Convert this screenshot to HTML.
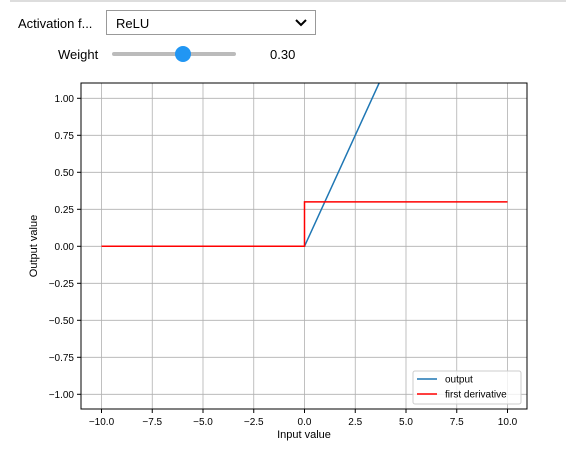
<!DOCTYPE html>
<html><head><meta charset="utf-8"><style>
body{margin:0;width:566px;height:453px;background:#fff;font-family:"Liberation Sans",sans-serif;overflow:hidden;position:relative}
.topline{position:absolute;left:10px;top:0;width:556px;height:2px;background:#ddd}
.lbl{position:absolute;font-size:13px;color:#000}
.sel{position:absolute;left:106px;top:10px;width:210px;height:25px;border:1px solid #999;box-sizing:border-box;font-size:13px;padding:5px 0 0 9px}
.track{position:absolute;left:112px;top:52px;width:124px;height:4px;background:#bbb;border-radius:2px}
.thumb{position:absolute;left:175px;top:46px;width:16px;height:16px;border-radius:50%;background:#2196f3}
</style></head><body>
<div class="topline"></div>
<div class="lbl" style="left:18px;top:16px">Activation f...</div>
<div class="sel">ReLU<svg style="position:absolute;right:8px;top:8px" width="12" height="8"><path d="M1,1 L6,6 L11,1" stroke="#000" stroke-width="2" fill="none"/></svg></div>
<div class="lbl" style="left:58px;top:47px">Weight</div>
<div class="track"></div>
<div class="thumb"></div>
<div class="lbl" style="left:270px;top:47px">0.30</div>
<svg id="chart" width="566" height="453" style="position:absolute;left:0;top:0"></svg>
<script>
const xTicks=[-10,-7.5,-5,-2.5,0,2.5,5,7.5,10];
const xTickLabels=["\u221210.0","\u22127.5","\u22125.0","\u22122.5","0.0","2.5","5.0","7.5","10.0"];
const yTicks=[-1,-0.75,-0.5,-0.25,0,0.25,0.5,0.75,1];
const yTickLabels=["\u22121.00","\u22120.75","\u22120.50","\u22120.25","0.00","0.25","0.50","0.75","1.00"];
const outputX=[-10,0,10];
const outputY=[0,0,3];
const derivX=[-10,0,0,10];
const derivY=[0,0,0.3,0.3];
const L=81,R=527,T=83,B=409;
const sx=v=>304.5+v*20.3;
const sy=v=>246.3-v*148;
const svg=document.getElementById('chart');const NS='http://www.w3.org/2000/svg';
function mk(t,a){const e=document.createElementNS(NS,t);for(const k in a)e.setAttribute(k,a[k]);svg.appendChild(e);return e;}
const defs=mk('defs',{});const cp=document.createElementNS(NS,'clipPath');cp.setAttribute('id','c');const cr=document.createElementNS(NS,'rect');
cr.setAttribute('x',L);cr.setAttribute('y',T);cr.setAttribute('width',R-L);cr.setAttribute('height',B-T);cp.appendChild(cr);defs.appendChild(cp);
xTicks.forEach((v,i)=>{const x=sx(v);
const g=mk('line',{x1:x,x2:x,y1:T,y2:B,stroke:'#b0b0b0','stroke-width':0.8});

mk('line',{x1:x,x2:x,y1:B,y2:B+4,stroke:'#000'});
const t=mk('text',{x:x,y:B+16,'text-anchor':'middle','font-size':10,'font-family':'Liberation Sans, sans-serif'});t.textContent=xTickLabels[i];
});
yTicks.forEach((v,i)=>{const y=sy(v);
const g=mk('line',{x1:L,x2:R,y1:y,y2:y,stroke:'#b0b0b0','stroke-width':0.8});

mk('line',{x1:L-4,x2:L,y1:y,y2:y,stroke:'#000'});
const t=mk('text',{x:L-7,y:y+3.5,'text-anchor':'end','font-size':10,'font-family':'Liberation Sans, sans-serif'});t.textContent=yTickLabels[i];
});
function line(xs,ys,c,n){const p=mk('polyline',{points:xs.map((x,i)=>sx(x)+','+sy(ys[i])).join(' '),fill:'none',stroke:c,'stroke-width':1.5,'clip-path':'url(#c)'});
}
line(outputX,outputY,'#1f77b4','output-line');
line(derivX,derivY,'#ff0000','first-derivative-line');
const fr=mk('rect',{x:L,y:T,width:R-L,height:B-T,fill:'none',stroke:'#000','stroke-width':1});

const xl=mk('text',{x:304,y:438,'text-anchor':'middle','font-size':11,'font-family':'Liberation Sans, sans-serif'});xl.textContent='Input value';

const yl=mk('text',{x:0,y:0,'text-anchor':'middle','font-size':11,'font-family':'Liberation Sans, sans-serif',transform:'translate(37,246) rotate(-90)'});yl.textContent='Output value';

const lg=mk('rect',{x:413,y:371,width:108,height:33,fill:'#fff','fill-opacity':0.8,stroke:'#ccc',rx:2});

[['output','#1f77b4',379],['first derivative','#ff0000',394]].forEach(([n,c,y])=>{
mk('line',{x1:417,x2:437,y1:y,y2:y,stroke:c,'stroke-width':1.5});
const t=mk('text',{x:445,y:y+3.5,'font-size':10,'font-family':'Liberation Sans, sans-serif'});t.textContent=n;
});
</script>
</body></html>
